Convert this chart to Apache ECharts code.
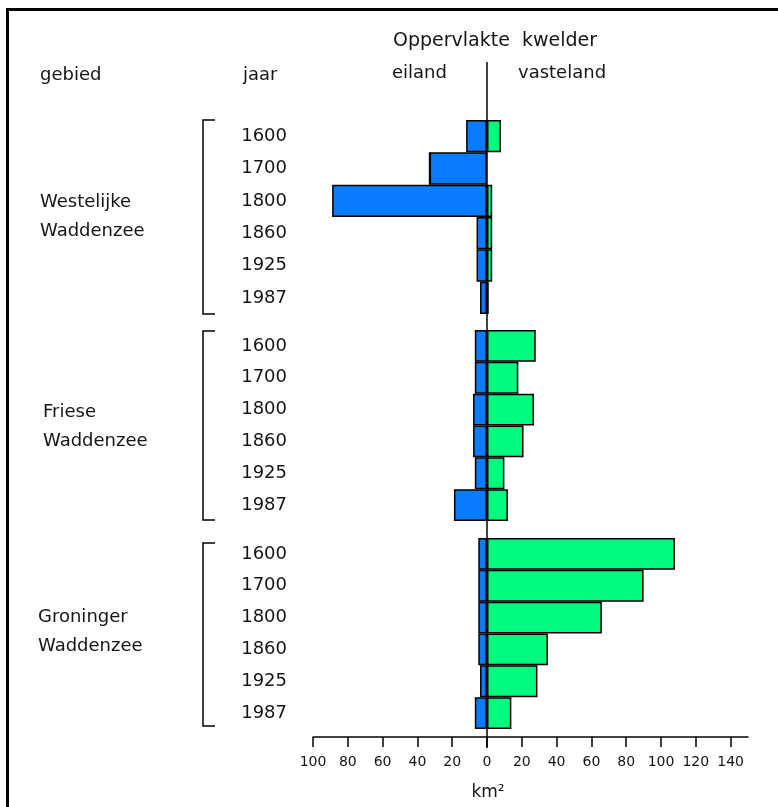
<!DOCTYPE html>
<html>
<head>
<meta charset="utf-8">
<script src="https://cdn.jsdelivr.net/npm/echarts@6/dist/echarts.min.js"></script>
<style>
html,body{margin:0;padding:0;background:#fff;}
#main{width:778px;height:807px;}
</style>
</head>
<body>
<div id="main"></div>
<script>
// ---- data ----
var years = ['1600', '1700', '1800', '1860', '1925', '1987'];
var regionNames = ['Westelijke\nWaddenzee', 'Friese\nWaddenzee', 'Groninger\nWaddenzee'];
// eiland (island) salt-marsh area, km² (drawn to the left)
var eilandWest = [12, 33, 89, 6, 6, 4];
var eilandFries = [7, 7, 8, 8, 7, 19];
var eilandGron = [5, 5, 5, 5, 4, 7];
// vasteland (mainland) salt-marsh area, km² (drawn to the right)
var vastWest = [8, 0, 3, 3, 3, 1];
var vastFries = [28, 18, 27, 21, 10, 12];
var vastGron = [108, 90, 66, 35, 29, 14];
// x-axis ticks
var xTicks = [-100, -80, -60, -40, -20, 0, 20, 40, 60, 80, 100, 120, 140];

var FONT = 'DejaVu Sans';
var TXT = '#151515';
var BLUE = '#0b7bff';
var GREEN = '#00fa7e';

var grids = [
  {left: 313, width: 435, top: 120, height: 194},
  {left: 313, width: 435, top: 330, height: 191},
  {left: 313, width: 435, top: 538, height: 191}
];
var eiland = [eilandWest, eilandFries, eilandGron];
var vast = [vastWest, vastFries, vastGron];

var xAxes = [], yAxes = [], series = [];
for (var i = 0; i < 3; i++) {
  xAxes.push({
    type: 'value', gridIndex: i, min: -100, max: 150, interval: 20,
    show: i === 2, offset: 8,
    splitLine: {show: false},
    axisLine: {show: true, onZero: false, lineStyle: {color: '#000', width: 1.5}},
    axisTick: {show: true, length: 10, inside: false, customValues: xTicks, lineStyle: {color: '#000', width: 1.5}},
    axisLabel: {customValues: xTicks, margin: 18, fontFamily: FONT, fontSize: 14, color: TXT,
      formatter: function (v) { return String(Math.abs(v)); }}
  });
  yAxes.push({
    type: 'category', gridIndex: i, data: years, inverse: true,
    axisLine: {show: false}, axisTick: {show: false}, splitLine: {show: false},
    axisLabel: {margin: 26, fontFamily: FONT, fontSize: 18, color: TXT}
  });
  series.push({
    type: 'bar', xAxisIndex: i, yAxisIndex: i, stack: 's' + i,
    barCategoryGap: 0,
    data: eiland[i].map(function (v) { return -v; }),
    itemStyle: {color: BLUE, borderColor: '#000', borderWidth: 1.5}
  });
  series.push({
    type: 'bar', xAxisIndex: i, yAxisIndex: i, stack: 's' + i,
    barCategoryGap: 0,
    data: vast[i],
    itemStyle: {color: GREEN, borderColor: '#000', borderWidth: 1.5}
  });
}

var chart = echarts.init(document.getElementById('main'), null, {renderer: 'canvas'});
chart.setOption({
  animation: false,
  backgroundColor: '#fff',
  grid: grids,
  xAxis: xAxes,
  yAxis: yAxes,
  series: series
});

function txt(x, y, s, size, align) {
  return {type: 'text', x: x, y: y, z: 50,
    style: {text: s, fontFamily: FONT, fontSize: size || 18, fill: TXT,
      textAlign: align || 'left', textVerticalAlign: 'middle', lineHeight: 29}};
}
function bracket(top, bottom) {
  return {type: 'polyline', z: 50,
    shape: {points: [[215, top], [203, top], [203, bottom], [215, bottom]]},
    style: {stroke: '#000', lineWidth: 1.5, fill: null}};
}

var zeroX = chart.convertToPixel({xAxisIndex: 2}, 0);
var graphics = [
  {type: 'rect', z: 60, shape: {x: 7.5, y: 9.5, width: 840, height: 860},
    style: {stroke: '#000', lineWidth: 3, fill: null}},
  {type: 'line', z: 55, shape: {x1: zeroX, y1: 62, x2: zeroX, y2: 748},
    style: {stroke: '#000', lineWidth: 1.5}},
  txt(393, 41, 'Oppervlakte  kwelder', 19),
  txt(40, 75, 'gebied', 18),
  txt(243, 75, 'jaar', 18),
  txt(392, 73, 'eiland', 18),
  txt(518, 73, 'vasteland', 18),
  txt(488, 793, 'km²', 17, 'center'),
  txt(40, 217, regionNames[0], 18),
  txt(43, 427, regionNames[1], 18),
  txt(38, 632, regionNames[2], 18),
  bracket(120, 314),
  bracket(331, 520),
  bracket(543, 726)
];
chart.setOption({graphic: graphics});
</script>
</body>
</html>
